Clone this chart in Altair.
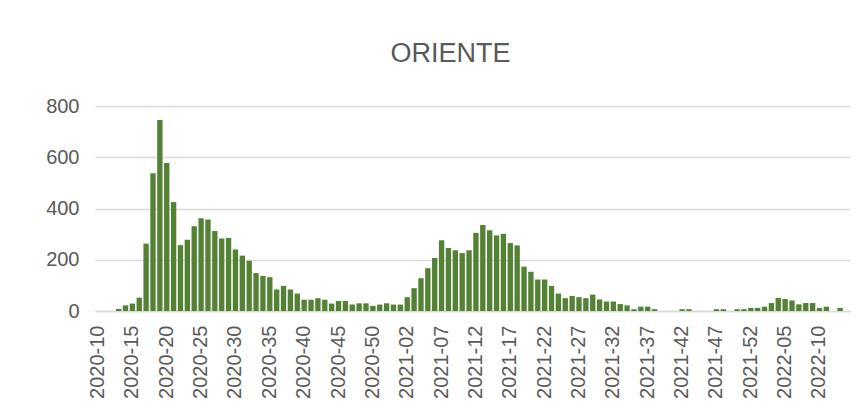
import altair as alt
import pandas as pd

weeks_2020 = [f"2020-{w:02d}" for w in range(10, 54)]
weeks_2021 = [f"2021-{w:02d}" for w in range(1, 53)]
weeks_2022 = [f"2022-{w:02d}" for w in range(1, 15)]
categories = weeks_2020 + weeks_2021 + weeks_2022

values = [
    0, 0, 0, 8, 22, 29, 52, 263, 538, 745,
    578, 425, 257, 278, 331, 362, 357, 312, 283, 285,
    240, 216, 196, 148, 137, 132, 84, 98, 84, 68,
    44, 44, 50, 44, 29, 39, 39, 25, 30, 30,
    20, 25, 30, 25, 25, 54, 89, 128, 167, 207,
    276, 246, 237, 226, 237, 305, 336, 315, 295, 301,
    265, 256, 173, 153, 123, 123, 98, 68, 50, 59,
    54, 50, 64, 45, 37, 37, 27, 22, 7, 17,
    17, 7, 0, 0, 0, 7, 7, 0, 0, 0,
    7, 7, 0, 7, 7, 12, 12, 17, 31, 51,
    47, 41, 26, 31, 31, 12, 17, 0, 12, 0,
]

shown_labels = categories[::5]
y_ticks = [0, 200, 400, 600, 800]

df = pd.DataFrame({"semana": categories, "casos": values})

FONT = "Liberation Sans"
GRAY = "#595959"

chart = alt.Chart(df).mark_bar(color="#548235").encode(
    x=alt.X(
        "semana:O",
        sort=categories,
        scale=alt.Scale(paddingInner=0.22, paddingOuter=0.05),
        axis=alt.Axis(
            title=None,
            values=shown_labels,
            labelAngle=-90,
            labelFontSize=20,
            labelColor=GRAY,
            labelFont=FONT,
            labelPadding=14,
            ticks=False,
            domainColor="#d9d9d9",
            domainWidth=1.5,
            grid=False,
        ),
    ),
    y=alt.Y(
        "casos:Q",
        scale=alt.Scale(domain=[0, 800], nice=False),
        axis=alt.Axis(
            title=None,
            values=y_ticks,
            labelFontSize=20,
            labelColor=GRAY,
            labelFont=FONT,
            labelPadding=16,
            ticks=False,
            domain=False,
            grid=True,
            gridColor="#d9d9d9",
            gridWidth=1.5,
        ),
    ),
).properties(
    width=755,
    height=205,
    title=alt.TitleParams(
        "ORIENTE",
        font=FONT,
        fontSize=27,
        fontWeight="normal",
        color=GRAY,
        anchor="middle",
        frame="group",
        dx=-22,
        offset=28,
    ),
    autosize=alt.AutoSizeParams(type="none"),
    padding={"left": 87, "top": 98, "right": 6, "bottom": 99},
).configure(
    background="white",
    view=alt.ViewConfig(stroke=None),
)

chart.save("out.html", embed_options={"renderer": "svg", "actions": False})
